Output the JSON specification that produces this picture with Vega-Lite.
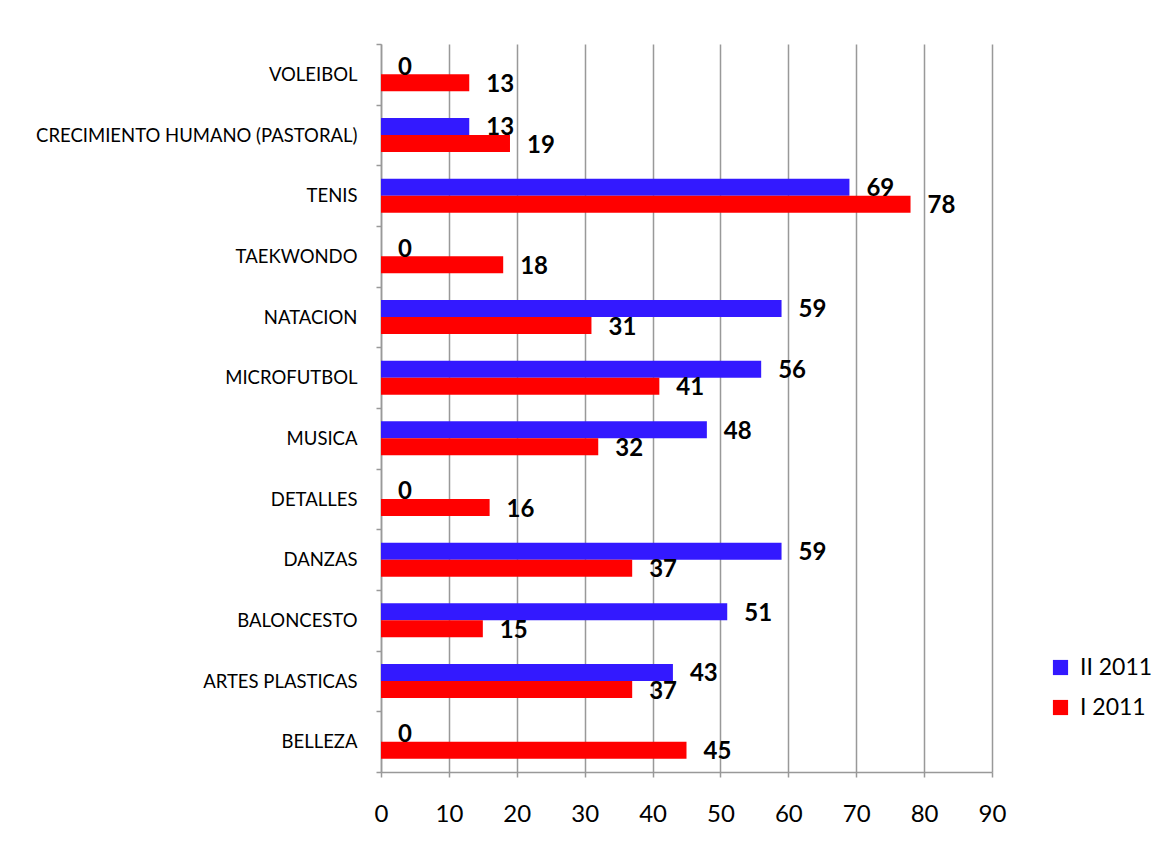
{
  "$schema": "https://vega.github.io/schema/vega-lite/v6.json",
  "autosize": {"type": "none"},
  "padding": {"left": 381, "top": 44, "right": 165, "bottom": 78},
  "width": 611,
  "height": 728,
  "background": "white",
  "config": {
    "view": {"stroke": null},
    "font": "Lato",
    "axis": {"labelFont": "Lato", "labelColor": "black", "domainColor": "#999999", "tickColor": "#999999", "domainWidth": 1.5, "tickWidth": 1.5, "tickSize": 5, "titleFontSize": 0}
  },
  "data": {
    "values": [
      {"actividad": "VOLEIBOL", "periodo": "II 2011", "valor": 0},
      {"actividad": "VOLEIBOL", "periodo": "I 2011", "valor": 13},
      {"actividad": "CRECIMIENTO HUMANO (PASTORAL)", "periodo": "II 2011", "valor": 13},
      {"actividad": "CRECIMIENTO HUMANO (PASTORAL)", "periodo": "I 2011", "valor": 19},
      {"actividad": "TENIS", "periodo": "II 2011", "valor": 69},
      {"actividad": "TENIS", "periodo": "I 2011", "valor": 78},
      {"actividad": "TAEKWONDO", "periodo": "II 2011", "valor": 0},
      {"actividad": "TAEKWONDO", "periodo": "I 2011", "valor": 18},
      {"actividad": "NATACION", "periodo": "II 2011", "valor": 59},
      {"actividad": "NATACION", "periodo": "I 2011", "valor": 31},
      {"actividad": "MICROFUTBOL", "periodo": "II 2011", "valor": 56},
      {"actividad": "MICROFUTBOL", "periodo": "I 2011", "valor": 41},
      {"actividad": "MUSICA", "periodo": "II 2011", "valor": 48},
      {"actividad": "MUSICA", "periodo": "I 2011", "valor": 32},
      {"actividad": "DETALLES", "periodo": "II 2011", "valor": 0},
      {"actividad": "DETALLES", "periodo": "I 2011", "valor": 16},
      {"actividad": "DANZAS", "periodo": "II 2011", "valor": 59},
      {"actividad": "DANZAS", "periodo": "I 2011", "valor": 37},
      {"actividad": "BALONCESTO", "periodo": "II 2011", "valor": 51},
      {"actividad": "BALONCESTO", "periodo": "I 2011", "valor": 15},
      {"actividad": "ARTES PLASTICAS", "periodo": "II 2011", "valor": 43},
      {"actividad": "ARTES PLASTICAS", "periodo": "I 2011", "valor": 37},
      {"actividad": "BELLEZA", "periodo": "II 2011", "valor": 0},
      {"actividad": "BELLEZA", "periodo": "I 2011", "valor": 45}
    ]
  },
  "encoding": {
    "y": {
      "field": "actividad", "type": "nominal", "sort": null, "title": null,
      "scale": {"paddingInner": 0, "paddingOuter": 0},
      "axis": {"tickBand": "extent", "labelFontSize": 18.5, "labelPadding": 19, "grid": false, "labelLimit": 400}
    },
    "yOffset": {
      "field": "periodo", "type": "nominal",
      "sort": ["II 2011", "I 2011"],
      "scale": {"paddingInner": 0, "paddingOuter": 0.784}
    },
    "x": {
      "field": "valor", "type": "quantitative", "title": null,
      "scale": {"domain": [0, 90], "nice": false},
      "axis": {"values": [0, 10, 20, 30, 40, 50, 60, 70, 80, 90], "labelFontSize": 24, "labelPadding": 25, "grid": true, "gridColor": "#999999", "gridWidth": 1.5, "labelFlush": false}
    }
  },
  "layer": [
    {
      "mark": {"type": "bar"},
      "encoding": {
        "color": {
          "field": "periodo", "type": "nominal", "title": null,
          "scale": {"domain": ["II 2011", "I 2011"], "range": ["#3319FF", "#FF0000"]},
          "legend": {
            "orient": "none", "legendX": 668, "legendY": 612,
            "symbolType": "square", "symbolSize": 230, "symbolStrokeWidth": 0,
            "labelFontSize": 23, "labelFont": "Lato", "labelColor": "black",
            "labelOffset": 8, "rowPadding": 16, "padding": 0
          }
        }
      }
    },
    {
      "mark": {"type": "text", "align": "left", "baseline": "middle", "dx": 17, "dy": 2, "fontSize": 24, "fontWeight": "bold", "font": "Lato", "color": "black"},
      "encoding": {
        "text": {"field": "valor", "type": "quantitative"}
      }
    }
  ]
}
